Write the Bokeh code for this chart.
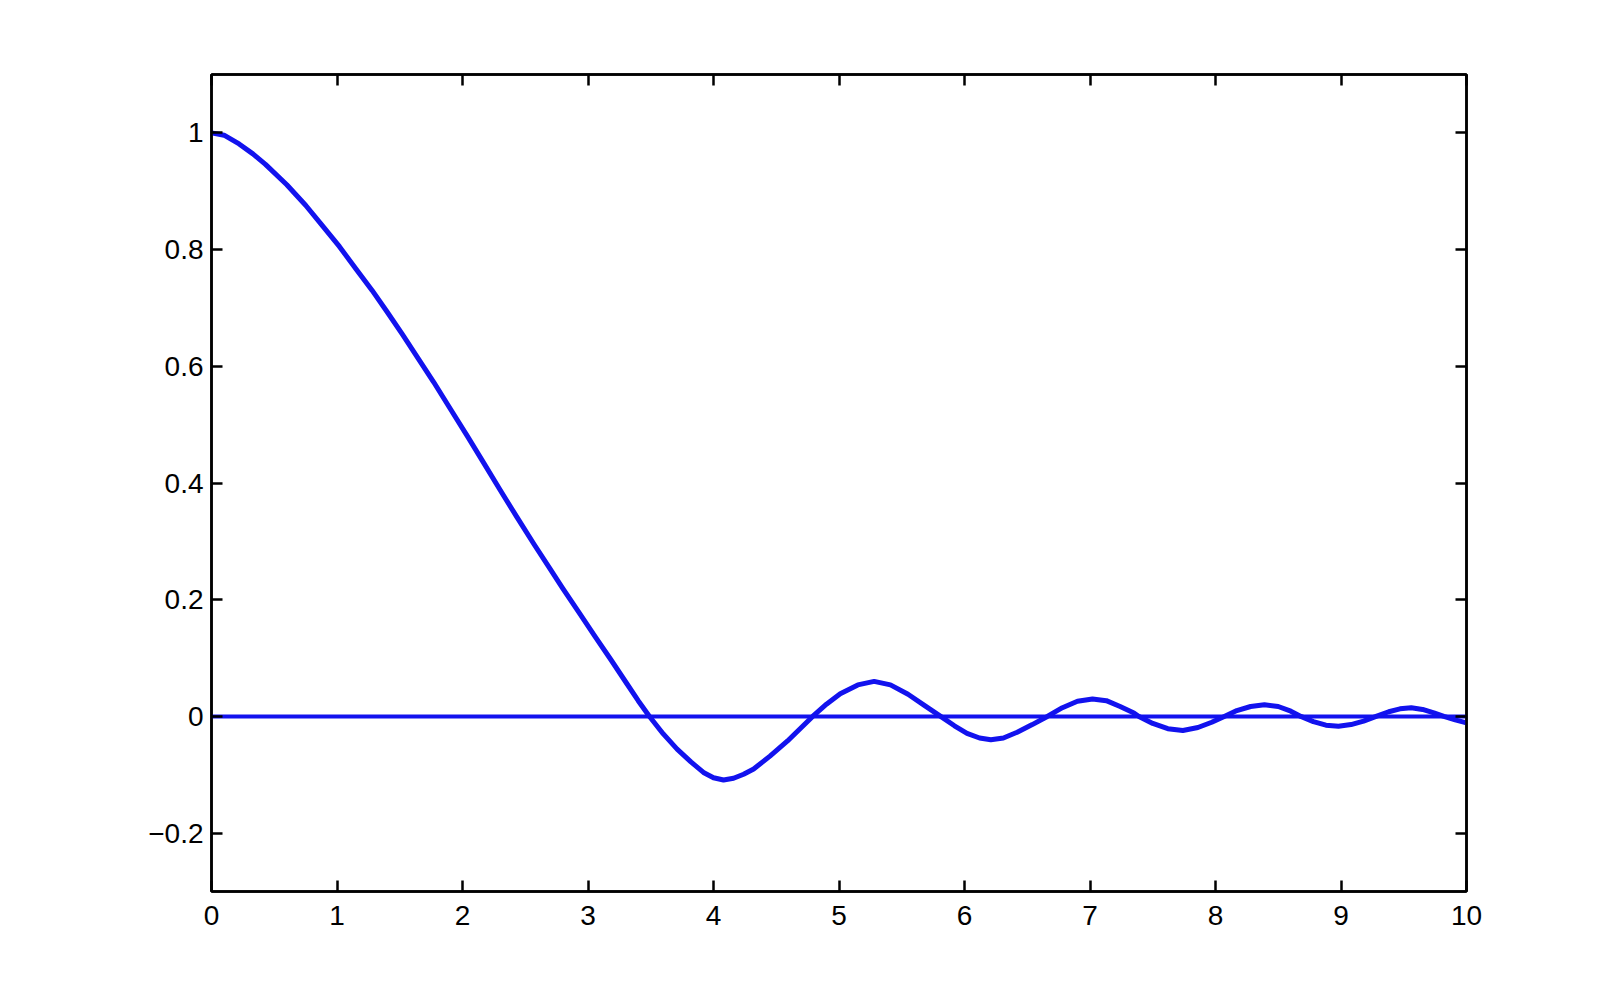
from bokeh.plotting import figure
from bokeh.models import Range1d, LinearAxis, FixedTicker, CustomJSTickFormatter
from bokeh.embed import file_html
from bokeh.resources import INLINE

# ---- data ----
curve_x = [0, 0.10, 0.22, 0.33, 0.43, 0.60, 0.75, 0.88, 1.02, 1.15, 1.28, 1.40, 1.52,
           1.645, 1.77, 1.90, 2.04, 2.17, 2.30, 2.435, 2.57, 2.685, 2.80, 2.925,
           3.05, 3.18, 3.31, 3.40, 3.49, 3.60, 3.71, 3.82, 3.92, 4.00, 4.08, 4.16,
           4.24, 4.32, 4.45, 4.59, 4.69, 4.79, 4.90, 5.01, 5.15, 5.28, 5.41, 5.55,
           5.68, 5.81, 5.92, 6.02, 6.12, 6.21, 6.31, 6.42, 6.54, 6.66, 6.78, 6.90,
           7.02, 7.13, 7.24, 7.35, 7.39, 7.50, 7.62, 7.74, 7.86, 7.97, 8.07, 8.17,
           8.28, 8.39, 8.50, 8.60, 8.68, 8.78, 8.88, 8.98, 9.08, 9.18, 9.28, 9.38,
           9.47, 9.56, 9.65, 9.74, 9.82, 9.91, 10.0]
curve_y = [1.0, 0.996, 0.981, 0.964, 0.946, 0.911, 0.876, 0.842, 0.805, 0.767, 0.730, 0.693, 0.655,
           0.614, 0.573, 0.528, 0.480, 0.434, 0.388, 0.341, 0.295, 0.257, 0.219, 0.179,
           0.139, 0.098, 0.056, 0.027, 0.0, -0.030, -0.056, -0.078, -0.096, -0.105, -0.109, -0.106,
           -0.099, -0.090, -0.068, -0.042, -0.021, 0.0, 0.021, 0.039, 0.054, 0.060, 0.054, 0.038,
           0.019, 0.0, -0.016, -0.029, -0.037, -0.040, -0.037, -0.027, -0.014, 0.0, 0.015, 0.026,
           0.030, 0.027, 0.017, 0.006, 0.0, -0.012, -0.021, -0.024, -0.019, -0.010, 0.0, 0.010,
           0.017, 0.020, 0.017, 0.009, 0.0, -0.009, -0.015, -0.017, -0.014, -0.008, 0.0, 0.008,
           0.013, 0.015, 0.012, 0.006, 0.0, -0.006, -0.011]
zero_x = [0, 10]
zero_y = [0, 0]

x_ticks = [0, 1, 2, 3, 4, 5, 6, 7, 8, 9, 10]
x_labels = ["0", "1", "2", "3", "4", "5", "6", "7", "8", "9", "10"]
y_ticks = [-0.2, 0, 0.2, 0.4, 0.6, 0.8, 1]
y_labels = ["\u22120.2", "0", "0.2", "0.4", "0.6", "0.8", "1"]

BLUE = "#1212ee"
FONT = "Liberation Sans"

p = figure(frame_width=1255, frame_height=817,
           min_border_left=211, min_border_top=74, min_border_right=138, min_border_bottom=96,
           x_range=Range1d(0, 10), y_range=Range1d(-0.3, 1.1),
           output_backend="svg", toolbar_location=None,
           background_fill_color="white", border_fill_color="white")
p.grid.visible = False
p.outline_line_color = "black"
p.outline_line_width = 2.5

p.line(zero_x, zero_y, line_color=BLUE, line_width=4)
p.line(curve_x, curve_y, line_color=BLUE, line_width=5, line_join="round")

def style(ax):
    ax.axis_line_color = "black"
    ax.axis_line_width = 2.5
    ax.major_tick_in = 11
    ax.major_tick_out = 0
    ax.major_tick_line_width = 2.5
    ax.major_tick_line_color = "black"
    ax.minor_tick_line_color = None
    ax.major_label_text_font = FONT
    ax.major_label_text_font_size = "28px"
    ax.major_label_text_color = "black"

xa = p.xaxis[0]
ya = p.yaxis[0]
xa.ticker = FixedTicker(ticks=x_ticks)
ya.ticker = FixedTicker(ticks=y_ticks)
xa.major_label_overrides = {t: l for t, l in zip(x_ticks, x_labels)}
ya.major_label_overrides = {t: l for t, l in zip(y_ticks, y_labels)}
style(xa)
style(ya)
xa.major_label_standoff = 14
ya.major_label_standoff = 8

blank = CustomJSTickFormatter(code="return ''")
top = LinearAxis(ticker=FixedTicker(ticks=x_ticks), formatter=blank)
right = LinearAxis(ticker=FixedTicker(ticks=y_ticks), formatter=blank)
style(top)
style(right)
top.major_label_standoff = 0
right.major_label_standoff = 0
p.add_layout(top, "above")
p.add_layout(right, "right")

open("out.html", "w").write(file_html(p, INLINE))
